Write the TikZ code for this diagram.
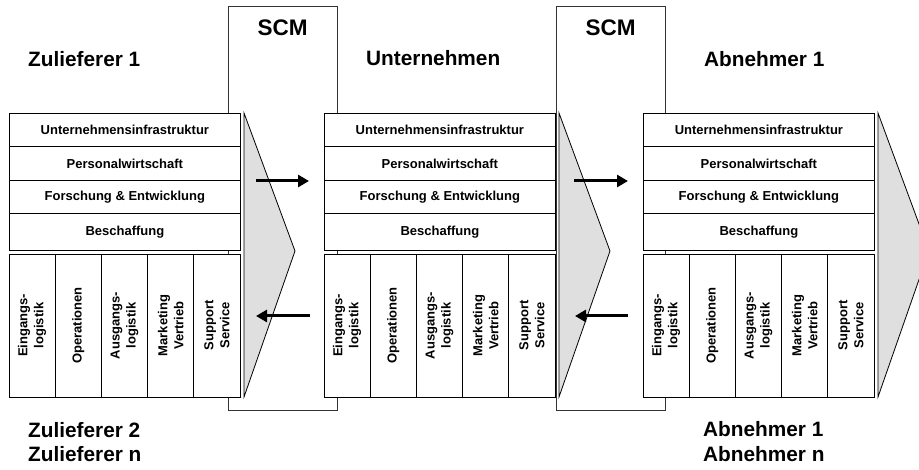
\documentclass[tikz,border=0pt]{standalone}
\usepackage{fontspec}
\setmainfont{Liberation Sans}
\usetikzlibrary{arrows.meta}
\begin{document}
\begin{tikzpicture}[x=1pt,y=-1pt,
  every node/.style={font=\bfseries},
  scmbox/.style={draw=black!80, fill=white, line width=0.8pt, inner sep=0pt,
    minimum width=109pt, minimum height=404pt, anchor=north west},
  rowbox/.style={draw=black, fill=white, line width=0.8pt, inner sep=0pt,
    minimum width=231pt, anchor=north west,
    font=\bfseries\fontsize{13}{15}\selectfont},
  colbox/.style={draw=black, fill=white, line width=0.8pt, inner sep=0pt,
    rotate=90, minimum width=143pt, minimum height=46.2pt, align=center,
    font=\bfseries\fontsize{13}{16}\selectfont},
  chevron/.style={draw=black, fill=gray!25, line width=0.8pt, line join=miter},
  flow/.style={line width=3pt, -{Triangle[length=11pt,width=12pt]}},
  title/.style={font=\bfseries\fontsize{20.8}{24.5}\selectfont, anchor=base west, inner sep=0pt},
  scmtitle/.style={font=\bfseries\fontsize{22.5}{26}\selectfont, anchor=base, inner sep=0pt},
]
\useasboundingbox (0,0) rectangle (919,470);
\clip (0,0) rectangle (919,470);

% SCM bands behind the value chains
\node[scmbox] (scm1) at (228,6) {};
\node[scmbox] (scm2) at (556,6) {};
\node[scmtitle] (scm1-t) at (282.5,36) {SCM};
\node[scmtitle] (scm2-t) at (610.5,36) {SCM};

% value chains: support activities, primary activities and the chevron
\foreach \b/\x in {zl/9, un/324, ab/643} {
  \draw[chevron] (\x+235,113) -- (\x+286,251) -- (\x+235,397) -- cycle;
  \foreach \y/\h/\t [count=\i] in {113/33.5/Unternehmensinfrastruktur,
      146.5/33.5/Personalwirtschaft, 180/33.5/Forschung \& Entwicklung,
      213.5/36.5/Beschaffung}
    \node[rowbox, minimum height=\h pt] (\b-r\i) at (\x,\y) {\t};
  \foreach \t [count=\i] in {{Eingangs-\\logistik}, Operationen,
      {Ausgangs-\\logistik}, {Marketing\\Vertrieb}, {Support\\Service}}
    \node[colbox] (\b-c\i) at ({\x+46.2*\i-23.1},325.5) {\t};
}

% flows between the partners
\coordinate (f1a) at (256,181);  \coordinate (f1b) at (309,181);
\coordinate (f2a) at (310,316);  \coordinate (f2b) at (256,316);
\coordinate (f3a) at (574,181);  \coordinate (f3b) at (628,181);
\coordinate (f4a) at (628,316);  \coordinate (f4b) at (575,316);
\draw[flow] (f1a) -- (f1b);
\draw[flow] (f2a) -- (f2b);
\draw[flow] (f3a) -- (f3b);
\draw[flow] (f4a) -- (f4b);

% partner labels
\node[title] (zl-t) at (28,66.7) {Zulieferer 1};
\node[title] (un-t) at (366,66) {Unternehmen};
\node[title] (ab-t) at (704,66.7) {Abnehmer 1};
\node[title] (zl-b1) at (28,437) {Zulieferer 2};
\node[title] (zl-b2) at (28,461.5) {Zulieferer n};
\node[title] (ab-b1) at (703,436.7) {Abnehmer 1};
\node[title] (ab-b2) at (703,461.7) {Abnehmer n};
\end{tikzpicture}
\end{document}
